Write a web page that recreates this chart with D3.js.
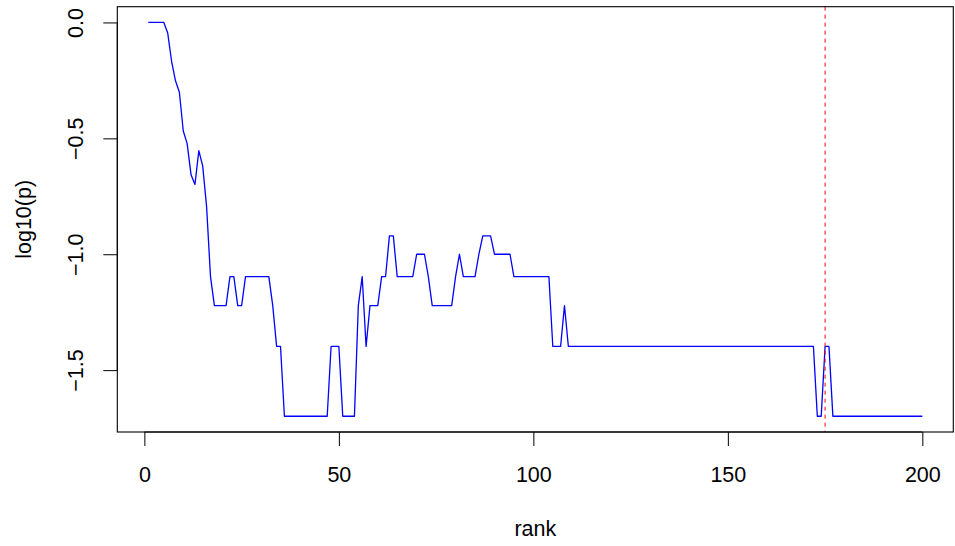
<!DOCTYPE html>
<html>
<head>
<meta charset="utf-8">
<script src="https://cdn.jsdelivr.net/npm/d3@7"></script>
<style>
  body { margin: 0; background: #fff; }
  svg { display: block; }
</style>
</head>
<body>
<div id="plot"></div>
<script>
// p value for each rank 1..200 (y is log10(p))
let pvals = [
  1, 1, 1, 1, 1, 0.90, 0.68, 0.56, 0.50, 0.34, 0.30, 0.22, 0.20, 0.28, 0.24, 0.16, 0.08, 0.06, 0.06, 0.06,
  0.06, 0.08, 0.08, 0.06, 0.06, 0.08, 0.08, 0.08, 0.08, 0.08, 0.08, 0.08, 0.06, 0.04, 0.04, 0.02, 0.02, 0.02, 0.02, 0.02,
  0.02, 0.02, 0.02, 0.02, 0.02, 0.02, 0.02, 0.04, 0.04, 0.04, 0.02, 0.02, 0.02, 0.02, 0.06, 0.08, 0.04, 0.06, 0.06, 0.06,
  0.08, 0.08, 0.12, 0.12, 0.08, 0.08, 0.08, 0.08, 0.08, 0.10, 0.10, 0.10, 0.08, 0.06, 0.06, 0.06, 0.06, 0.06, 0.06, 0.08,
  0.10, 0.08, 0.08, 0.08, 0.08, 0.10, 0.12, 0.12, 0.12, 0.10, 0.10, 0.10, 0.10, 0.10, 0.08, 0.08, 0.08, 0.08, 0.08, 0.08,
  0.08, 0.08, 0.08, 0.08, 0.04, 0.04, 0.04, 0.06, 0.04, 0.04, 0.04, 0.04, 0.04, 0.04, 0.04, 0.04, 0.04, 0.04, 0.04, 0.04,
  0.04, 0.04, 0.04, 0.04, 0.04, 0.04, 0.04, 0.04, 0.04, 0.04, 0.04, 0.04, 0.04, 0.04, 0.04, 0.04, 0.04, 0.04, 0.04, 0.04,
  0.04, 0.04, 0.04, 0.04, 0.04, 0.04, 0.04, 0.04, 0.04, 0.04, 0.04, 0.04, 0.04, 0.04, 0.04, 0.04, 0.04, 0.04, 0.04, 0.04,
  0.04, 0.04, 0.04, 0.04, 0.04, 0.04, 0.04, 0.04, 0.04, 0.04, 0.04, 0.04, 0.02, 0.02, 0.04, 0.04, 0.02, 0.02, 0.02, 0.02,
  0.02, 0.02, 0.02, 0.02, 0.02, 0.02, 0.02, 0.02, 0.02, 0.02, 0.02, 0.02, 0.02, 0.02, 0.02, 0.02, 0.02, 0.02, 0.02, 0.02
];
let cutoff_rank = 175;            // red dashed line
let xticks = [0, 50, 100, 150, 200];
let yticks = [0, -0.5, -1, -1.5];

function main(){
    const width = 955, height = 546;
    // plot box (like R's default margins)
    const left = 117.3, right = 953.3, top = 6.7, bottom = 432;
    const fontsize = 21.5;

    let data = pvals.map((p, i) => ({rank: i + 1, lp: Math.log10(p)}));

    // R style 4% padding on both axes
    let xext = d3.extent(data, d => d.rank);
    let yext = d3.extent(data, d => d.lp);
    let xpad = (xext[1] - xext[0]) * 0.04;
    let ypad = (yext[1] - yext[0]) * 0.04;

    let x = d3.scaleLinear()
        .domain([xext[0] - xpad, xext[1] + xpad])
        .range([left, right]);
    let y = d3.scaleLinear()
        .domain([yext[0] - ypad, yext[1] + ypad])
        .range([bottom, top]);

    let svg = d3.select('#plot')
        .append('svg')
        .attr('width', width)
        .attr('height', height)
        .style('font-family', '"Liberation Sans", Arial, Helvetica, sans-serif')
        .style('font-size', fontsize + 'px');

    // the data line
    let line = d3.line()
        .x(d => x(d.rank))
        .y(d => y(d.lp));
    svg.append('path')
        .datum(data)
        .attr('d', line)
        .attr('fill', 'none')
        .attr('stroke', '#0000ff')
        .attr('stroke-width', 1.3)
        .attr('stroke-linejoin', 'round');

    // vertical cutoff
    svg.append('line')
        .attr('x1', x(cutoff_rank)).attr('x2', x(cutoff_rank))
        .attr('y1', top).attr('y2', bottom)
        .attr('stroke', '#ff0000')
        .attr('stroke-width', 1)
        .attr('stroke-dasharray', '4,4');

    // box
    svg.append('rect')
        .attr('x', left).attr('y', top)
        .attr('width', right - left).attr('height', bottom - top)
        .attr('fill', 'none')
        .attr('stroke', '#000')
        .attr('stroke-width', 1.1);

    // x axis
    let xaxis = d3.axisBottom(x)
        .tickValues(xticks)
        .tickSize(14)
        .tickPadding(18)
        .tickFormat(d3.format('d'));
    let gx = svg.append('g')
        .attr('transform', `translate(0,${bottom})`)
        .call(xaxis);
    gx.select('.domain')
        .attr('d', `M${x(xticks[0])},0H${x(xticks[xticks.length - 1])}`);
    gx.selectAll('text')
        .attr('fill', '#000')
        .attr('y', 50).attr('dy', null)
        .style('font-size', fontsize + 'px')
        .style('font-family', '"Liberation Sans", Arial, sans-serif');

    // y axis, labels turned like R (las=0)
    let yaxis = d3.axisLeft(y)
        .tickValues(yticks)
        .tickSize(14)
        .tickFormat(d3.format('.1f'));
    let gy = svg.append('g')
        .attr('transform', `translate(${left},0)`)
        .call(yaxis);
    gy.select('.domain')
        .attr('d', `M0,${y(yticks[0])}V${y(yticks[yticks.length - 1])}`);
    gy.selectAll('text')
        .attr('fill', '#000')
        .attr('x', null).attr('dy', null)
        .attr('text-anchor', 'middle')
        .attr('transform', `translate(${82.5 - left},0) rotate(-90)`)
        .style('font-size', fontsize + 'px')
        .style('font-family', '"Liberation Sans", Arial, sans-serif')
        .text(d => d3.format('.1f')(d).replace('-', '\u2212'));
    gy.selectAll('.tick line').attr('stroke', '#000');
    gx.selectAll('.tick line').attr('stroke', '#000');
    svg.selectAll('.domain').attr('stroke', '#000');

    // axis titles
    svg.append('text')
        .attr('x', (left + right) / 2)
        .attr('y', 536)
        .attr('text-anchor', 'middle')
        .text('rank');
    svg.append('text')
        .attr('transform', `translate(31,${(top + bottom) / 2}) rotate(-90)`)
        .attr('text-anchor', 'middle')
        .text('log10(p)');
}

main();
</script>
</body>
</html>
